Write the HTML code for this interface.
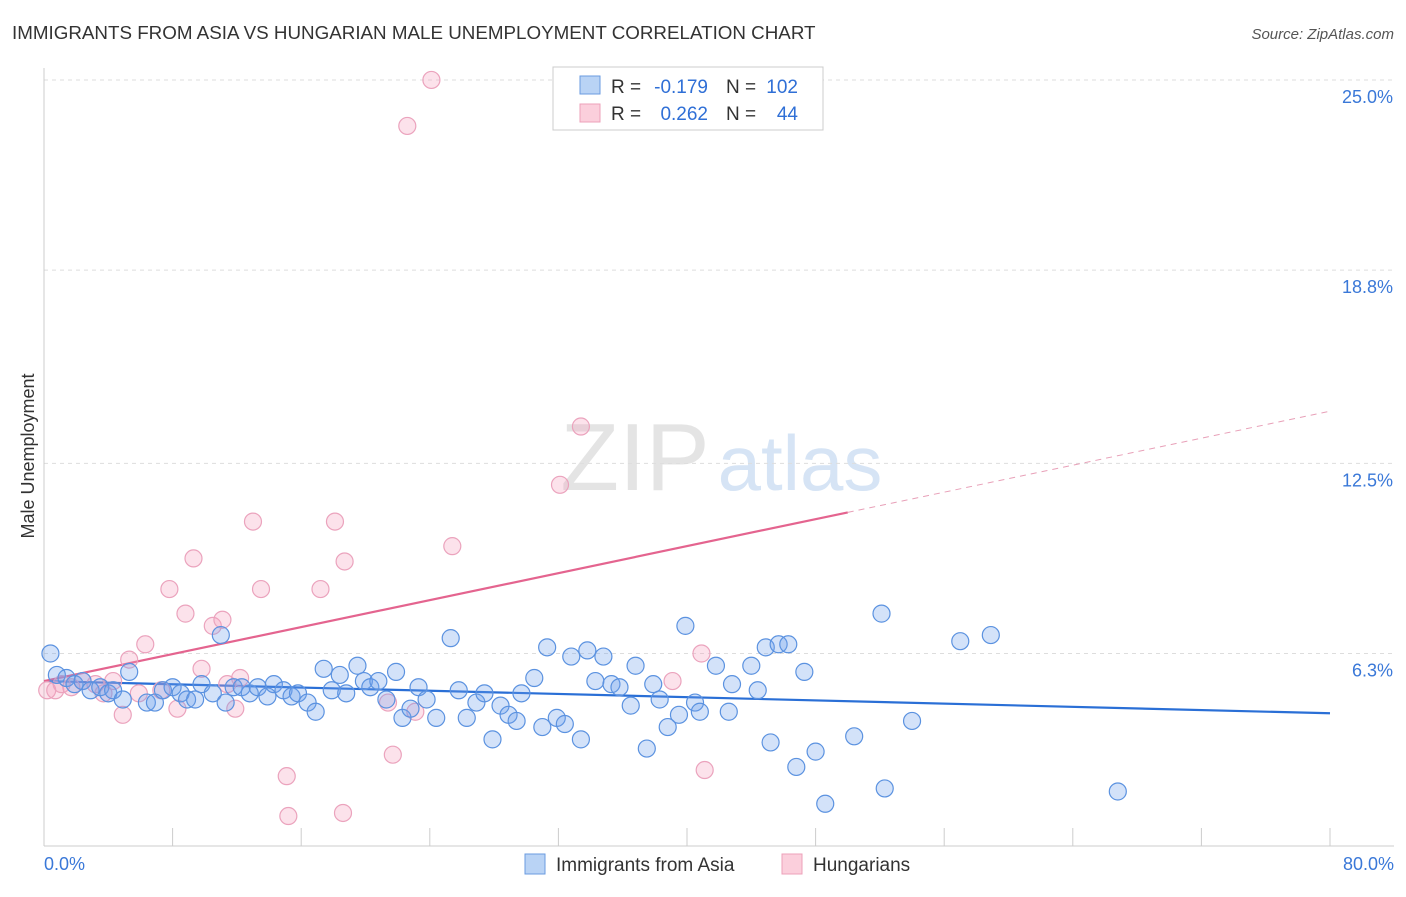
<!DOCTYPE html>
<html><head><meta charset="utf-8"><style>
body{margin:0;background:#fff;font-family:"Liberation Sans",sans-serif;}
svg text{font-family:"Liberation Sans",sans-serif;}
</style></head><body>
<svg id="chart" width="1406" height="892" viewBox="0 0 1406 892">
<text x="12" y="39" font-size="18.8" fill="#333">IMMIGRANTS FROM ASIA VS HUNGARIAN MALE UNEMPLOYMENT CORRELATION CHART</text>
<text x="1394" y="39" font-size="15" fill="#555" text-anchor="end" font-style="italic">Source: ZipAtlas.com</text>
<text x="34" y="456" font-size="18" fill="#333" text-anchor="middle" transform="rotate(-90 34 456)">Male Unemployment</text>
<g><text x="635" y="490" font-size="96" fill="#e4e4e4" text-anchor="middle" font-family="Liberation Serif">ZIP</text><text x="800" y="490" font-size="78" fill="#d6e4f5" text-anchor="middle">atlas</text></g>
<g id="grid"></g><g id="axes"></g><g id="trends"></g><g id="pts"></g>
<g>
<rect x="553" y="67" width="270" height="63" fill="#fff" stroke="#ccc"/>
<rect x="580" y="76" width="20" height="18" fill="#b9d3f5" stroke="#6a9be0"/>
<rect x="580" y="104" width="20" height="18" fill="#fbcfdc" stroke="#eda0ba"/>
<text x="611" y="93" font-size="19" fill="#333">R =</text>
<text x="708" y="93" font-size="19" fill="#2f6fd6" text-anchor="end">-0.179</text>
<text x="726" y="93" font-size="19" fill="#333">N =</text>
<text x="798" y="93" font-size="19" fill="#2f6fd6" text-anchor="end">102</text>
<text x="611" y="120" font-size="19" fill="#333">R =</text>
<text x="708" y="120" font-size="19" fill="#2f6fd6" text-anchor="end">0.262</text>
<text x="726" y="120" font-size="19" fill="#333">N =</text>
<text x="798" y="120" font-size="19" fill="#2f6fd6" text-anchor="end">44</text>
</g>
<g>
<rect x="525" y="854" width="20" height="20" fill="#b9d3f5" stroke="#6a9be0"/>
<text x="556" y="871" font-size="19" fill="#333">Immigrants from Asia</text>
<rect x="782" y="854" width="20" height="20" fill="#fbcfdc" stroke="#eda0ba"/>
<text x="813" y="871" font-size="19" fill="#333">Hungarians</text>
</g>
</svg>
<script>
const yTicks=[6.3,12.5,18.8,25.0];
const yTickLabels=["6.3%","12.5%","18.8%","25.0%"];
const xEndLabels=["0.0%","80.0%"];
const asiaX=[0.4,0.8,1.4,1.9,2.4,2.9,3.5,4.0,4.3,4.9,5.3,6.4,6.9,7.4,8.0,8.5,8.9,9.4,9.8,10.5,11.0,11.3,11.8,12.3,12.8,13.3,13.9,14.3,14.9,15.4,15.8,16.4,16.9,17.4,17.9,18.4,18.8,19.5,19.9,20.3,20.8,21.3,21.9,22.3,22.8,23.3,23.8,24.4,25.3,25.8,26.3,26.9,27.4,27.9,28.4,28.9,29.4,29.7,30.5,31.0,31.3,31.9,32.4,32.8,33.4,33.8,34.3,34.8,35.3,35.8,36.5,36.8,37.5,37.9,38.3,38.8,39.5,39.9,40.5,40.8,41.8,42.6,42.8,44.0,44.4,44.9,45.2,45.7,46.3,46.8,47.3,48.0,48.6,50.4,52.1,52.3,54.0,57.0,58.9,66.8];
const asiaY=[6.3,5.6,5.5,5.3,5.4,5.1,5.2,5.0,5.1,4.8,5.7,4.7,4.7,5.1,5.2,5.0,4.8,4.8,5.3,5.0,6.9,4.7,5.2,5.2,5.0,5.2,4.9,5.3,5.1,4.9,5.0,4.7,4.4,5.8,5.1,5.6,5.0,5.9,5.4,5.2,5.4,4.8,5.7,4.2,4.5,5.2,4.8,4.2,6.8,5.1,4.2,4.7,5.0,3.5,4.6,4.3,4.1,5.0,5.5,3.9,6.5,4.2,4.0,6.2,3.5,6.4,5.4,6.2,5.3,5.2,4.6,5.9,3.2,5.3,4.8,3.9,4.3,7.2,4.7,4.4,5.9,4.4,5.3,5.9,5.1,6.5,3.4,6.6,6.6,2.6,5.7,3.1,1.4,3.6,7.6,1.9,4.1,6.7,6.9,1.8];
const hunX=[0.2,0.7,1.1,1.7,2.4,3.2,3.7,4.3,4.9,5.3,5.9,6.3,7.3,7.8,8.3,8.8,9.3,9.8,10.5,11.1,11.4,11.9,12.2,13.0,13.5,15.1,15.2,17.2,18.1,18.6,18.7,21.4,21.7,22.6,23.1,24.1,25.4,32.1,33.4,39.1,40.9,41.1];
const hunY=[5.1,5.1,5.3,5.2,5.4,5.3,5.0,5.4,4.3,6.1,5.0,6.6,5.1,8.4,4.5,7.6,9.4,5.8,7.2,7.4,5.3,4.5,5.5,10.6,8.4,2.3,1.0,8.4,10.6,1.1,9.3,4.7,3.0,23.5,4.4,25.0,9.8,11.8,13.7,5.4,6.3,2.5];
const asiaTrend=[5.4,4.35];
const hunTrend=[5.4,0.11];
const hunSolidEnd=50;
const X=v=>44+v*(1286/80), Y=v=>846.7-v*30.67;
const NS="http://www.w3.org/2000/svg";
function mk(t,a,p){const e=document.createElementNS(NS,t);for(const k in a)e.setAttribute(k,a[k]);p.appendChild(e);return e;}
const grid=document.getElementById('grid'),axes=document.getElementById('axes');
yTicks.forEach((t,i)=>{
 const l=mk('line',{x1:44,x2:1394,y1:Y(t),y2:Y(t),stroke:'#ddd','stroke-dasharray':'4,4'},grid);
 
 
 const tx=mk('text',{x:1393,y:Y(t)+23,'font-size':18,fill:'#3a78d8','text-anchor':'end'},axes);
 tx.textContent=yTickLabels[i];
 
 
});
const xa=mk('line',{x1:44,x2:1394,y1:846,y2:846,stroke:'#ccc'},axes);


const ya=mk('line',{x1:44,x2:44,y1:68,y2:846,stroke:'#ccc'},axes);


for(let i=1;i<=10;i++){const v=i*8;const tk=mk('line',{x1:X(v),x2:X(v),y1:828,y2:846,stroke:'#ccc'},axes);
 
 }
[[0,'start',44],[80,'end',1394]].forEach((d,i)=>{const t=mk('text',{x:d[2],y:870,'font-size':18,fill:'#3a78d8','text-anchor':d[1]},axes);t.textContent=xEndLabels[i];
 
 });
const pts=document.getElementById('pts');
function dots(xs,ys,fill,stroke,name){xs.forEach((x,i)=>{const c=mk('circle',{cx:X(x),cy:Y(ys[i]),r:8.5,fill:fill,stroke:stroke,'stroke-width':1.2},pts);
 
 });}
dots(hunX,hunY,'rgba(245,160,190,0.3)','#eba3bd','hungarians-point');
dots(asiaX,asiaY,'rgba(110,160,235,0.3)','#5b92e0','asia-point');
const tr=document.getElementById('trends');
const bl=mk('line',{x1:X(0),y1:Y(asiaTrend[0]),x2:X(80),y2:Y(asiaTrend[1]),stroke:'#2a6fd6','stroke-width':2.2},tr);


const ps=mk('line',{x1:X(0),y1:Y(hunTrend[0]),x2:X(hunSolidEnd),y2:Y(hunTrend[0]+hunTrend[1]*hunSolidEnd),stroke:'#e4648f','stroke-width':2.2},tr);


const pd=mk('line',{x1:X(hunSolidEnd),y1:Y(hunTrend[0]+hunTrend[1]*hunSolidEnd),x2:X(80),y2:Y(hunTrend[0]+hunTrend[1]*80),stroke:'#e8a0b8','stroke-width':1,'stroke-dasharray':'6,5'},tr);


const topLine=mk('line',{x1:44,x2:1394,y1:Y(25),y2:Y(25),stroke:'#ddd','stroke-dasharray':'4,4'},grid);


</script>
</body></html>
